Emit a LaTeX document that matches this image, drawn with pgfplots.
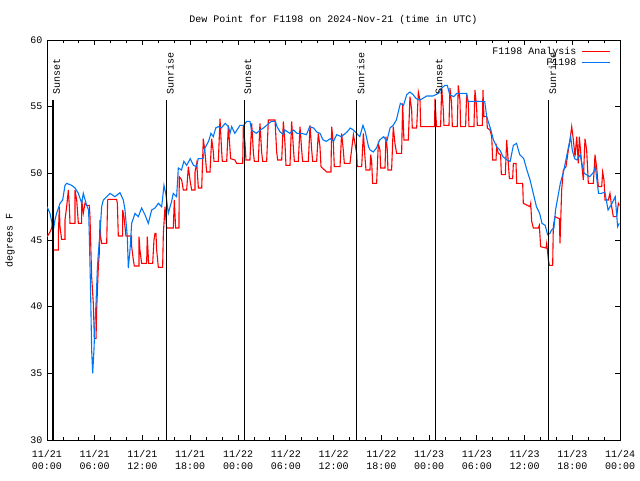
\documentclass[border=0pt]{standalone}
\usepackage{pgfplots}
\pgfplotsset{compat=1.18}
\usepackage{fontspec}
\setmainfont{Liberation Mono}
\definecolor{obsblue}{RGB}{0,118,245}
\begin{document}
\fontsize{10}{12}\selectfont
\begin{tikzpicture}
\begin{axis}[
  name=ax,
  scale only axis,
  width=573pt, height=400pt,
  xmin=0, xmax=72, ymin=30, ymax=60,
  xtick={0,6,...,72},
  xticklabels={{11/21\\00:00},{11/21\\06:00},{11/21\\12:00},{11/21\\18:00},{11/22\\00:00},{11/22\\06:00},{11/22\\12:00},{11/22\\18:00},{11/23\\00:00},{11/23\\06:00},{11/23\\12:00},{11/23\\18:00},{11/24\\00:00}},
  xticklabel style={align=center, font=\fontsize{10}{12}\selectfont, yshift=-7pt},
  minor x tick num=2,
  ytick={30,35,...,60},
  yticklabel style={font=\fontsize{10}{12}\selectfont, xshift=-1pt},
  /pgf/number format/assume math mode=true,
  tick align=inside,
  major tick length=5pt, minor tick length=3pt,
  every tick/.style={black, line width=0.8pt},
  axis line style={line width=0.9pt},
  title={Dew Point for F1198 on 2024-Nov-21 (time in UTC)},
  every axis title/.style={at={(axis description cs:0.5,1.05)}, anchor=center, font=\fontsize{10}{12}\selectfont},
  ylabel={degrees F},
  every axis y label/.style={at={(axis description cs:-0.0646,0.5)}, rotate=90, anchor=center, font=\fontsize{10}{12}\selectfont},
  legend style={at={(axis description cs:0.984,0.988)}, anchor=north east, draw=none, fill=none, font=\fontsize{10}{12}\selectfont, row sep=-1pt, inner sep=0pt, nodes={inner xsep=5pt}},
  legend cell align=right,
  legend plot pos=right,
  legend image code/.code={\draw[#1, line width=1.3pt] (0pt,0pt) -- (28pt,0pt);},
  clip=true,
]
\addplot[red, line width=1.1pt] coordinates {
(0,45.25) (0.17,45.4) (0.38,45.6) (0.59,45.9) (0.71,46.5) (0.80,44.25) (1.42,44.25) (1.42,45.25) (1.55,47.5) (1.63,46.0) (1.84,45.05) (2.26,45.05) (2.26,46.5) (2.47,47.5) (2.68,48.75) (2.81,47.5) (2.89,46.25) (3.52,46.25) (3.52,48.75) (3.73,48.0) (3.94,46.25) (4.36,46.25) (4.36,48.0) (4.56,47.0) (4.77,47.75) (4.98,47.6) (5.32,47.6) (5.40,46.75) (5.61,42.25) (5.82,40.25) (5.95,37.6) (6.16,37.6) (6.24,39.75) (6.45,43.0) (6.57,44.0) (6.66,46.5) (6.74,45.25) (6.87,44.75) (7.50,44.75) (7.62,48.0) (7.71,48.05) (8.75,48.05) (8.84,47.75) (8.96,45.3) (9.51,45.3) (9.51,47.25) (9.67,46.75) (9.92,45.3) (10.64,45.3) (10.64,44.5) (10.85,43.5) (10.97,43.05) (11.56,43.05) (11.56,45.25) (11.68,44.25) (11.89,43.25) (12.52,43.25) (12.60,45.25) (12.77,43.25) (13.28,43.25) (13.44,45.0) (13.57,45.5) (13.69,45.5) (13.78,44.25) (13.99,42.95) (14.53,42.95) (14.62,45.5) (14.83,47.5) (15.03,45.9) (15.87,45.9) (16.0,48.0) (16.16,45.9) (16.58,45.9) (16.62,49.75) (16.92,49.5) (17.13,48.75) (17.55,48.75) (17.76,50.5) (17.97,49.5) (18.18,48.75) (18.60,48.75) (18.60,50.1) (18.81,50.75) (19.02,48.9) (19.44,48.9) (19.64,52.6) (19.85,51.6) (20.06,50.1) (20.48,50.1) (20.69,52.6) (20.90,51.6) (20.98,50.9) (21.53,50.9) (21.74,54.1) (21.95,51.6) (22.03,50.9) (22.58,50.9) (22.79,53.6) (23.0,51.75) (23.08,51.1) (23.62,51.0) (23.83,50.75) (24.59,50.75) (24.67,53.6) (24.88,52.25) (25.0,51.0) (25.5,51.0) (25.72,53.75) (25.93,51.6) (26.05,50.9) (26.55,50.9) (26.76,53.75) (26.97,51.6) (27.1,50.9) (27.6,50.9) (27.81,54.0) (28.65,54.0) (28.86,51.6) (28.98,51.0) (29.49,51.0) (29.7,53.9) (29.9,52.25) (30.03,50.6) (30.53,50.6) (30.74,53.9) (30.95,52.0) (31.08,50.9) (31.58,50.9) (31.79,53.5) (32.0,51.75) (32.12,50.9) (32.84,50.9) (33.05,53.6) (33.26,51.75) (33.38,50.9) (33.88,50.9) (34.09,53.0) (34.3,52.0) (34.43,50.5) (35.14,50.1) (35.68,50.1) (35.77,53.5) (35.98,52.25) (36.1,50.5) (36.82,50.5) (37.02,53.0) (37.23,51.75) (37.36,50.75) (38.07,50.75) (38.5,52.9) (38.91,51.5) (38.99,50.5) (39.54,50.5) (39.75,53.0) (39.95,51.25) (40.08,50.25) (40.58,50.25) (40.67,51.4) (40.79,50.9) (40.92,49.25) (41.42,49.25) (41.63,52.25) (41.84,51.75) (41.92,50.4) (42.47,50.4) (42.59,52.75) (42.76,51.75) (42.84,50.25) (43.3,50.25) (43.51,53.5) (43.72,52.25) (43.93,51.5) (44.56,51.5) (44.69,55.25) (44.77,53.75) (44.85,52.5) (45.4,52.5) (45.61,55.75) (45.82,54.75) (45.9,53.4) (46.45,53.4) (46.66,56.1) (46.87,55.5) (46.95,53.5) (48.7,53.5) (48.75,55.6) (48.87,54.25) (48.96,53.5) (49.46,53.5) (49.59,56.4) (49.8,54.75) (49.88,53.6) (50.51,53.6) (50.63,56.4) (50.84,55.25) (50.93,53.5) (51.55,53.5) (51.68,56.6) (51.89,55.5) (51.97,53.5) (52.6,53.5) (52.73,56.0) (52.94,55.25) (53.02,53.5) (53.65,53.5) (53.77,56.25) (53.98,55.0) (54.07,53.6) (54.7,53.6) (54.78,56.25) (54.85,55.0) (54.91,54.25) (55.25,54.25) (55.33,53.4) (55.67,53.25) (55.88,52.75) (56.0,51.0) (56.42,51.0) (56.5,52.0) (56.71,51.5) (57.0,51.4) (57.09,49.9) (57.59,49.9) (57.76,52.5) (57.97,50.75) (58.1,49.6) (58.51,49.6) (58.6,50.75) (58.93,50.75) (59.02,49.25) (59.77,49.25) (59.85,47.75) (60.69,47.5) (60.78,47.75) (60.9,46.4) (61.11,45.9) (61.74,45.9) (61.86,46.1) (62.03,44.5) (62.7,44.4) (62.79,44.75) (63.0,43.5) (63.12,43.1) (63.54,43.1) (63.62,46.0) (63.83,46.75) (64.38,46.6) (64.46,44.75) (64.67,48.75) (64.88,50.25) (65.21,50.5) (65.51,51.75) (65.72,52.5) (65.93,53.5) (66.14,52.5) (66.35,51.25) (66.56,52.75) (66.76,50.75) (66.89,52.75) (67.18,50.75) (67.39,49.5) (67.6,52.6) (67.81,51.75) (68.02,49.25) (68.65,49.25) (68.86,51.4) (69.07,50.4) (69.28,49.0) (69.7,49.0) (69.82,50.1) (69.99,49.5) (70.11,48.0) (70.53,48.0) (70.74,48.5) (70.95,47.5) (71.16,46.75) (71.58,46.75) (71.79,47.75) (71.92,47.6)
};
\addlegendentry{F1198 Analysis}
\addplot[obsblue, line width=1.1pt] coordinates {
(0,47.5) (0.38,47.0) (0.80,45.75) (1.0,46.5) (1.21,47.0) (1.63,47.75) (1.97,48.0) (2.26,49.1) (2.47,49.25) (3.1,49.1) (3.52,48.9) (3.94,48.5) (4.36,47.75) (4.56,48.5) (4.98,47.6) (5.23,47.25) (5.32,45.25) (5.40,43.25) (5.49,40.75) (5.61,36.75) (5.74,35.0) (5.9,36.75) (6.03,38.75) (6.16,40.25) (6.32,42.75) (6.45,44.0) (6.66,45.5) (6.87,47.5) (7.08,48.0) (7.5,48.25) (7.91,48.5) (8.54,48.25) (9.17,48.55) (9.59,48.0) (9.8,47.25) (10.09,45.25) (10.22,42.9) (10.43,44.25) (10.64,46.25) (11.06,47.0) (11.47,46.75) (11.89,47.4) (12.31,46.9) (12.73,46.25) (13.15,47.25) (13.57,47.4) (13.99,47.75) (14.41,47.5) (14.7,49.1) (14.95,48.4) (15.24,47.0) (15.66,47.9) (15.87,48.5) (16.29,48.25) (16.5,50.4) (16.9,50.25) (17.2,50.9) (17.55,50.6) (18.0,51.1) (18.4,50.6) (18.8,50.5) (19.0,51.1) (19.6,51.1) (19.85,51.9) (20.3,52.4) (20.6,53.0) (20.9,52.75) (21.2,53.4) (21.5,53.5) (21.9,53.4) (22.4,53.75) (22.8,53.5) (23.0,53.0) (23.2,53.5) (23.6,53.0) (24.25,53.6) (24.7,53.6) (25.1,53.9) (25.5,53.9) (25.7,53.25) (26.3,53.0) (26.8,53.25) (27.2,53.4) (27.6,53.6) (28.2,53.9) (28.7,53.9) (28.9,53.5) (29.3,53.1) (29.7,52.9) (29.9,53.25) (30.5,53.0) (31.0,53.25) (31.4,53.0) (32.0,53.0) (32.6,52.9) (33.0,53.5) (33.5,53.4) (33.9,53.1) (34.3,53.0) (34.7,52.5) (35.1,52.4) (35.6,52.6) (36.0,52.4) (36.4,52.9) (37.0,52.75) (37.7,53.1) (38.1,53.4) (38.5,53.25) (38.9,53.0) (39.3,52.75) (39.7,53.6) (40.0,53.1) (40.4,52.0) (40.6,51.75) (41.0,51.6) (41.4,51.9) (41.8,52.5) (42.3,52.75) (42.7,52.4) (43.1,53.4) (43.5,53.6) (43.9,54.0) (44.4,55.25) (44.8,55.1) (45.2,55.9) (45.6,56.1) (46.0,55.9) (46.4,55.6) (46.9,55.5) (47.7,55.8) (48.5,55.8) (49.2,56.0) (49.6,56.4) (50.0,56.6) (50.3,56.6) (50.6,55.9) (51.1,55.75) (51.5,56.0) (52.7,56.0) (52.9,55.4) (55.0,55.4) (55.25,54.25) (55.7,53.4) (56.1,52.5) (56.5,52.0) (56.9,51.75) (57.3,51.25) (57.8,51.0) (58.2,50.9) (58.6,52.1) (59.0,52.25) (59.4,51.4) (59.9,51.1) (60.3,50.25) (60.7,49.5) (61.1,48.5) (61.5,47.5) (61.9,47.0) (62.2,46.25) (62.6,46.1) (62.9,45.4) (63.2,45.5) (63.4,45.75) (63.7,45.9) (63.9,47.25) (64.2,48.25) (64.5,49.25) (64.9,50.1) (65.2,51.0) (65.5,51.9) (65.8,52.75) (66.0,51.75) (66.3,51.1) (66.6,51.0) (67.0,51.4) (67.2,50.75) (67.5,50.0) (67.8,49.9) (68.2,49.75) (68.7,50.1) (68.9,50.5) (69.1,49.5) (69.3,48.5) (69.7,48.5) (70.1,48.6) (70.5,47.25) (71.0,47.75) (71.4,48.25) (71.7,46.0) (71.9,46.25)
};
\addlegendentry{F1198}
% sunrise / sunset markers
\addplot[black, line width=1.2pt, forget plot] coordinates {(0.76,30) (0.76,55.5)};
\addplot[black, line width=1.2pt, forget plot] coordinates {(14.97,30) (14.97,55.5)};
\addplot[black, line width=1.2pt, forget plot] coordinates {(24.78,30) (24.78,55.5)};
\addplot[black, line width=1.2pt, forget plot] coordinates {(38.93,30) (38.93,55.5)};
\addplot[black, line width=1.2pt, forget plot] coordinates {(48.82,30) (48.82,55.5)};
\addplot[black, line width=1.2pt, forget plot] coordinates {(63.05,30) (63.05,55.5)};
\node[rotate=90, anchor=north west, inner sep=0pt] at (axis cs:0.76,55.9) {Sunset};
\node[rotate=90, anchor=north west, inner sep=0pt] at (axis cs:14.97,55.9) {Sunrise};
\node[rotate=90, anchor=north west, inner sep=0pt] at (axis cs:24.78,55.9) {Sunset};
\node[rotate=90, anchor=north west, inner sep=0pt] at (axis cs:38.93,55.9) {Sunrise};
\node[rotate=90, anchor=north west, inner sep=0pt] at (axis cs:48.82,55.9) {Sunset};
\node[rotate=90, anchor=north west, inner sep=0pt] at (axis cs:63.05,55.9) {Sunrise};
\end{axis}
\pgfresetboundingbox
\path ([xshift=-47pt,yshift=-40pt]ax.south west) rectangle ([xshift=20pt,yshift=40pt]ax.north east);
\end{tikzpicture}
\end{document}
